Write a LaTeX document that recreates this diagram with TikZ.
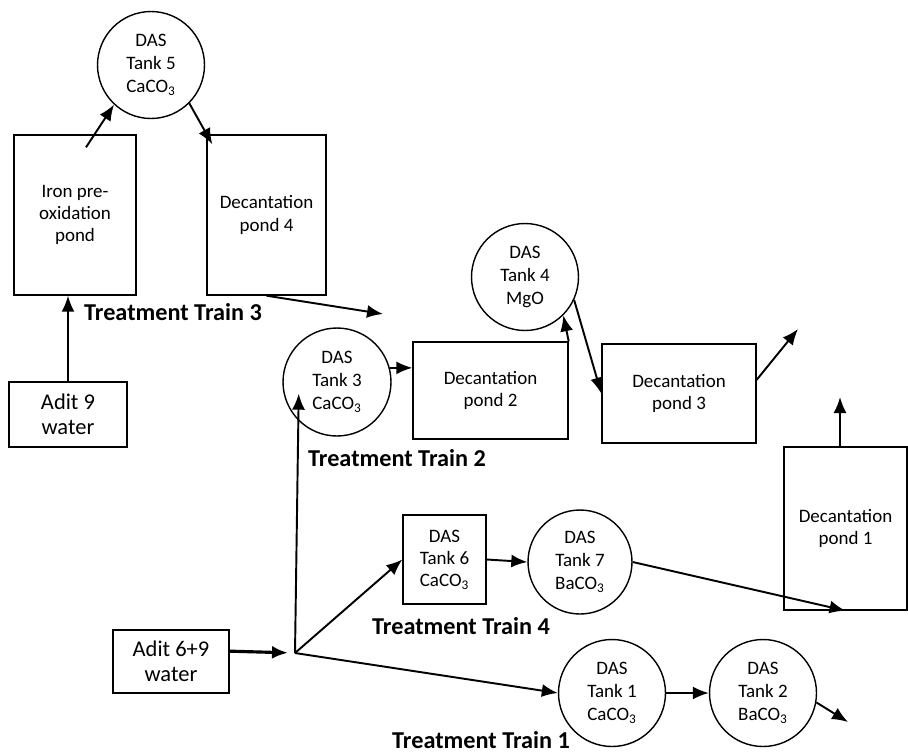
\documentclass[tikz,border=0pt]{standalone}
\usepackage{fontspec}
\setmainfont{Carlito}
\usetikzlibrary{arrows.meta, positioning}

\begin{document}
\begin{tikzpicture}[x=0.02cm, y=-0.02cm,
    tank/.style={circle, draw, thick, inner sep=0pt, minimum size=2.14cm, align=center, font=\fontsize{10.8}{13}\selectfont},
    pond/.style={rectangle, draw, thick, inner sep=0pt, align=center, font=\fontsize{10.8}{12.6}\selectfont},
    adit/.style={rectangle, draw, thick, inner sep=0pt, align=center, font=\fontsize{12.8}{14.2}\selectfont},
    train/.style={font=\fontsize{13.8}{16}\selectfont\bfseries},
    flow/.style={line width=1.1pt}]
        \useasboundingbox (0,0) rectangle (908,754);
        % treatment train 3
        \node[tank] (tank5) at (151,65) {DAS\\Tank 5\\CaCO\textsubscript{3}};
        \node[pond, minimum width=2.44cm, minimum height=3.2cm] (iron) at (75,215) {Iron pre-\\oxidation\\pond};
        \node[pond, minimum width=2.38cm, minimum height=3.2cm] (pond4) at (266.5,215) {Decantation\\pond 4};
        \node[train] (train3) at (173,312) {Treatment Train 3};
        \node[adit, minimum width=2.36cm, minimum height=1.3cm] (adit9) at (68,414.5) {Adit 9\\water};
        % treatment train 2
        \node[tank, minimum size=2.16cm] (tank3) at (337,382) {DAS\\Tank 3\\CaCO\textsubscript{3}};
        \node[pond, minimum width=3.1cm, minimum height=1.94cm] (pond2) at (490.5,390.5) {Decantation\\pond 2};
        \node[tank] (tank4) at (525,277) {DAS\\Tank 4\\MgO};
        \node[pond, minimum width=3.08cm, minimum height=1.98cm] (pond3) at (679,393.5) {Decantation\\pond 3};
        \node[train] (train2) at (397,458) {Treatment Train 2};
        \node[pond, minimum width=2.46cm, minimum height=3.26cm] (pond1) at (845.5,528.5) {Decantation\\pond 1};
        % treatment train 4
        \node[pond, minimum width=1.66cm, minimum height=1.78cm] (tank6) at (444.5,559.5) {DAS\\Tank 6\\CaCO\textsubscript{3}};
        \node[tank, minimum size=2.08cm] (tank7) at (580,562) {DAS\\Tank 7\\BaCO\textsubscript{3}};
        \node[train] (train4) at (461,626) {Treatment Train 4};
        % treatment train 1
        \node[adit, minimum width=2.32cm, minimum height=1.26cm] (adit69) at (171,661.5) {Adit 6+9\\water};
        \coordinate (split) at (295,653);
        \node[tank] (tank1) at (612,693) {DAS\\Tank 1\\CaCO\textsubscript{3}};
        \node[tank] (tank2) at (763,693) {DAS\\Tank 2\\BaCO\textsubscript{3}};
        \node[train] (train1) at (481,740) {Treatment Train 1};
        % loose ends
        \coordinate (out4) at (383,314);
        \coordinate (out3) at (798,329);
        \coordinate (out1) at (840,397);
        \coordinate (out2) at (848,722);

        \path[-{Latex[length=0.32cm, width=0.26cm]}]  (adit9.north) edge [flow] (adit9.north |- iron.south);
        \path[-{Latex[length=0.32cm, width=0.26cm]}]  ([shift={(11,13)}]iron.north) edge [flow] (tank5.-133);
        \path[-{Latex[length=0.32cm, width=0.26cm]}]  (tank5.-45) edge [flow] ([shift={(6,10)}]pond4.north west);
        \path[-{Latex[length=0.32cm, width=0.26cm]}]  (pond4.south) edge [flow] (out4);
        \path[-{Latex[length=0.32cm, width=0.26cm]}]  (adit69.10) edge [flow, line width=1.8pt, shorten >=0.14cm] (split);
        \path[-{Latex[length=0.32cm, width=0.26cm]}]  (split) edge [flow, shorten >=-0.54cm] (tank3.south west);
        \path[-{Latex[length=0.32cm, width=0.26cm]}]  (split) edge [flow] (tank6.west);
        \path[-{Latex[length=0.32cm, width=0.26cm]}]  (split) edge [flow] (tank1.west);
        \path[-{Latex[length=0.32cm, width=0.26cm]}]  (tank3.15) edge [flow] (tank3.15 -| pond2.west);
        \path[-{Latex[length=0.32cm, width=0.26cm]}]  (pond2.north east) edge [flow] (tank4.-45);
        \path[-{Latex[length=0.32cm, width=0.26cm]}]  (tank4.-25) edge [flow] (pond3.west);
        \path[-{Latex[length=0.32cm, width=0.26cm]}]  (pond3.10) edge [flow] (out3);
        \path[-{Latex[length=0.32cm, width=0.26cm]}]  (pond1.north -| out1) edge [flow] (out1);
        \path[-{Latex[length=0.32cm, width=0.26cm]}]  (tank6.east) edge [flow] (tank7.west);
        \path[-{Latex[length=0.32cm, width=0.26cm]}]  (tank7.east) edge [flow] (pond1.south);
        \path[-{Latex[length=0.32cm, width=0.26cm]}]  (tank1.east) edge [flow] (tank2.west);
        \path[-{Latex[length=0.32cm, width=0.26cm]}]  (tank2.-10) edge [flow] (out2);
    \end{tikzpicture}
\end{document}
